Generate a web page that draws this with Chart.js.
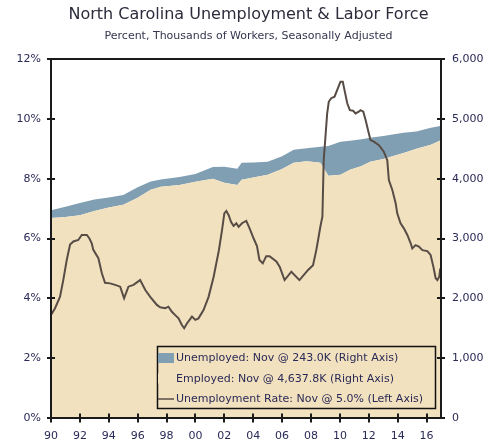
<!DOCTYPE html>
<html><head><meta charset="utf-8">
<script src="https://cdn.jsdelivr.net/npm/chart.js@4.4.0/dist/chart.umd.min.js"></script>
<style>html,body{margin:0;padding:0;background:#fff;}#wrap{width:497px;height:448px;position:relative;}</style>
</head><body><div id="wrap"><canvas id="c" width="497" height="448"></canvas></div>
<script>
// ---- data ----
const xTickYears = [1990,1992,1994,1996,1998,2000,2002,2004,2006,2008,2010,2012,2014,2016];
const leftTicks = [0,2,4,6,8,10,12];
const rightTicks = [0,1000,2000,3000,4000,5000,6000];

const bandYears = [1990.0,1991.0,1992.0,1993.0,1994.0,1995.0,1996.0,1996.9,1997.6,1998.9,2000.0,2001.2,2002.0,2002.9,2003.2,2004.0,2005.0,2006.0,2006.8,2007.7,2008.65,2009.2,2010.04,2010.7,2011.5,2012.1,2013.0,2014.4,2015.3,2016.3,2016.95];
const employed = [3344,3360,3390,3460,3520,3562,3680,3813,3863,3896,3950,3997,3930,3896,3980,4020,4064,4160,4264,4290,4264,4047,4064,4147,4210,4281,4330,4431,4500,4565,4638];
const unemployed = [130,170,205,190,165,165,175,140,125,130,130,200,270,268,284,250,217,215,218,220,268,500,551,485,450,401,385,335,290,284,243];

const rateYears = [1990.0,1990.28,1990.62,1990.85,1991.09,1991.32,1991.55,1991.89,1992.13,1992.48,1992.66,1992.82,1992.93,1993.28,1993.52,1993.74,1994.09,1994.44,1994.79,1995.06,1995.36,1995.71,1996.17,1996.53,1996.87,1997.33,1997.56,1997.91,1998.13,1998.37,1998.6,1998.83,1999.06,1999.22,1999.41,1999.76,1999.99,2000.21,2000.56,2000.91,2001.26,2001.49,2001.62,2001.84,2002.0,2002.14,2002.3,2002.46,2002.64,2002.83,2002.99,2003.22,2003.52,2003.75,2004.03,2004.26,2004.43,2004.66,2004.9,2005.13,2005.6,2005.83,2006.17,2006.64,2007.2,2007.8,2008.14,2008.37,2008.49,2008.65,2008.79,2008.88,2009.0,2009.12,2009.23,2009.4,2009.63,2009.81,2010.04,2010.2,2010.32,2010.51,2010.69,2010.92,2011.08,2011.31,2011.43,2011.62,2011.78,2012.0,2012.12,2012.35,2012.7,2013.04,2013.28,2013.39,2013.63,2013.86,2013.97,2014.2,2014.43,2014.67,2014.9,2015.01,2015.24,2015.47,2015.71,2016.05,2016.28,2016.47,2016.63,2016.75,2016.88,2016.95];
const rate = [3.44,3.67,4.05,4.61,5.28,5.8,5.9,5.95,6.12,6.12,6.0,5.84,5.62,5.34,4.84,4.52,4.5,4.45,4.39,4.0,4.39,4.45,4.61,4.28,4.05,3.78,3.7,3.67,3.72,3.55,3.44,3.33,3.11,3.0,3.16,3.39,3.28,3.33,3.61,4.05,4.72,5.28,5.6,6.28,6.84,6.92,6.78,6.56,6.42,6.51,6.39,6.51,6.59,6.34,6.0,5.75,5.28,5.17,5.41,5.41,5.23,5.06,4.61,4.89,4.61,4.95,5.11,5.62,5.95,6.4,6.73,8.62,9.4,10.18,10.57,10.69,10.74,10.96,11.24,11.24,10.96,10.52,10.29,10.27,10.18,10.24,10.29,10.24,9.96,9.52,9.29,9.24,9.12,8.9,8.62,7.95,7.62,7.18,6.84,6.51,6.34,6.12,5.84,5.67,5.78,5.73,5.61,5.58,5.45,5.06,4.67,4.61,4.72,5.0];

const labels = {
  unemp: 'Unemployed: Nov @ 243.0K (Right Axis)',
  emp: 'Employed: Nov @ 4,637.8K (Right Axis)',
  rate: 'Unemployment Rate: Nov @ 5.0% (Left Axis)'
};

// ---- styles ----
const BEIGE = '#F2E1BE', BLUE = '#819FB3', LINE = '#574C46', TXT = '#2a2a58';
const FONT = 'DejaVu Sans';

const toXY = (xs, ys) => xs.map((x, i) => ({x: x, y: ys[i]}));

const frameTicks = {
  id: 'frameTicks',
  afterDatasetsDraw(chart) {
    const {ctx, chartArea: a, scales} = chart;
    ctx.save();
    ctx.strokeStyle = '#1a1a1a';
    ctx.lineWidth = 2;
    ctx.strokeRect(a.left, a.top, a.right - a.left, a.bottom - a.top);
    ctx.beginPath();
    scales.y.ticks.forEach(t => { const p = Math.round(scales.y.getPixelForValue(t.value)); ctx.moveTo(a.left - 4, p); ctx.lineTo(a.left + 4, p); });
    scales.y2.ticks.forEach(t => { const p = Math.round(scales.y2.getPixelForValue(t.value)); ctx.moveTo(a.right - 4, p); ctx.lineTo(a.right + 4, p); });
    scales.x.ticks.forEach(t => { const p = Math.round(scales.x.getPixelForValue(t.value)); ctx.moveTo(p, a.bottom - 4.5); ctx.lineTo(p, a.bottom + 4.5); });
    ctx.stroke();
    ctx.restore();
  }
};

const boxLegend = {
  id: 'boxLegend',
  afterDraw(chart) {
    const {ctx, chartArea: a} = chart;
    const ds = chart.data.datasets;
    const order = [1, 0, 2];
    const x0 = a.left + 106, y0 = a.bottom - 72, w = 278, h = 62;
    ctx.save();
    ctx.strokeStyle = '#111';
    ctx.lineWidth = 1.5;
    ctx.strokeRect(x0 + 0.5, y0 + 0.5, w, h);
    ctx.font = '11px "' + FONT + '"';
    ctx.textBaseline = 'middle';
    ctx.fillStyle = TXT;
    order.forEach((di, i) => {
      const d = ds[di];
      const cy = y0 + 12 + i * 20.5;
      if (d.fill) {
        ctx.fillStyle = d.backgroundColor;
        ctx.fillRect(x0 + 1, cy - 5, 16, 10);
      } else {
        ctx.strokeStyle = d.borderColor;
        ctx.lineWidth = 1.5;
        ctx.beginPath(); ctx.moveTo(x0 + 1, cy); ctx.lineTo(x0 + 17, cy); ctx.stroke();
      }
      ctx.fillStyle = TXT;
      ctx.fillText(d.label, x0 + 19, cy + 0.5);
    });
    ctx.restore();
  }
};

new Chart(document.getElementById('c'), {
  type: 'line',
  data: {
    datasets: [
      { label: labels.emp, data: toXY(bandYears, employed), yAxisID: 'y2', stack: 'lf', order: 1,
        backgroundColor: BEIGE, borderWidth: 0, pointRadius: 0, fill: 'origin', tension: 0 },
      { label: labels.unemp, data: toXY(bandYears, unemployed), yAxisID: 'y2', stack: 'lf', order: 2,
        backgroundColor: BLUE, borderWidth: 0, pointRadius: 0, fill: '-1', tension: 0 },
      { label: labels.rate, data: toXY(rateYears, rate), yAxisID: 'y', order: 0,
        borderColor: LINE, borderWidth: 2, pointRadius: 0, fill: false, tension: 0 }
    ]
  },
  options: {
    responsive: false, animation: false, devicePixelRatio: 1,
    layout: { padding: { left: 0, right: 0, top: 0, bottom: 0 } },
    plugins: {
      legend: { display: false }, tooltip: { enabled: false },
      title: { display: true, text: 'North Carolina Unemployment & Labor Force', color: '#2c2c3c',
        font: { family: FONT, size: 16, weight: 'normal' }, padding: { top: 5, bottom: 2 } },
      subtitle: { display: true, text: 'Percent, Thousands of Workers, Seasonally Adjusted', color: '#35354f',
        font: { family: FONT, size: 11, weight: 'normal' }, padding: { top: 3, bottom: 16.6 } }
    },
    scales: {
      x: { type: 'linear', min: 1990, max: 2017,
        afterBuildTicks: s => { s.ticks = xTickYears.map(v => ({value: v})); },
        afterFit: s => { s.height = 30; },
        grid: { display: false, drawTicks: false }, border: { display: false },
        ticks: { padding: 12, color: TXT, font: { family: FONT, size: 11 }, maxRotation: 0, autoSkip: false,
          callback: v => String(v % 100).padStart(2, '0') } },
      y: { position: 'left', min: 0, max: 12,
        afterBuildTicks: s => { s.ticks = leftTicks.map(v => ({value: v})); },
        afterFit: s => { s.width = 51; },
        grid: { display: false, drawTicks: false }, border: { display: false },
        ticks: { padding: 10, color: TXT, font: { family: FONT, size: 11 }, callback: v => v + '%' } },
      y2: { position: 'right', min: 0, max: 6000, stacked: true,
        afterBuildTicks: s => { s.ticks = rightTicks.map(v => ({value: v})); },
        afterFit: s => { s.width = 56; },
        grid: { display: false, drawTicks: false }, border: { display: false },
        ticks: { padding: 11, color: TXT, font: { family: FONT, size: 11 }, callback: v => v.toLocaleString('en-US') } }
    }
  },
  plugins: [frameTicks, boxLegend]
});
</script></body></html>
